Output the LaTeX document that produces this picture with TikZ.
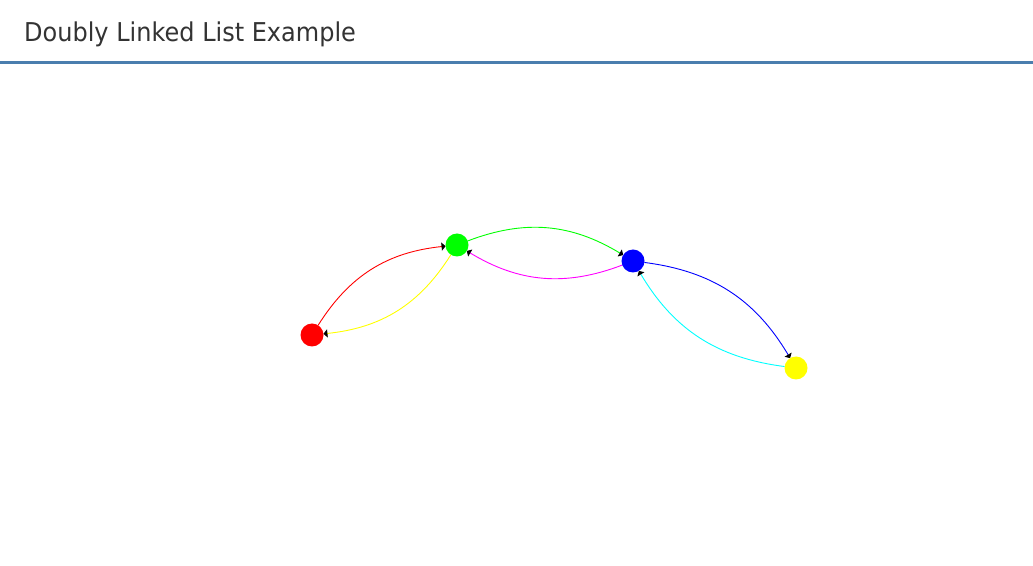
\documentclass[tikz,border=0pt]{standalone}
\usepackage{fontspec}
\setmainfont{DejaVu Sans}
\usetikzlibrary{arrows.meta}
\definecolor{titlegray}{RGB}{51,51,51}
\definecolor{ruleblue}{RGB}{74,126,174}
\definecolor{cRed}{RGB}{255,0,0}
\definecolor{cGreen}{RGB}{0,255,0}
\definecolor{cBlue}{RGB}{0,0,255}
\definecolor{cYellow}{RGB}{255,255,0}
\definecolor{cMagenta}{RGB}{255,0,255}
\definecolor{cCyan}{RGB}{0,255,255}
\begin{document}
\begin{tikzpicture}[x=1pt,y=1pt,
  dot/.style={circle,minimum size=23pt,inner sep=0pt,outer sep=0pt},
  link/.style={line width=0.9pt,bend left=26,
    -{Triangle[length=4pt,width=8pt,black]}}]
\useasboundingbox (0,0) rectangle (1033,565);
\fill[white] (0,0) rectangle (1033,565);
% title
\node[anchor=base west,inner sep=0pt,text=titlegray,font=\fontsize{24}{28}\selectfont] (title) at (24,523) {\scalebox{1}[1.08]{Doubly Linked List Example}};
\coordinate (ruleL) at (0,502.5);
\coordinate (ruleR) at (1033,502.5);
\draw[ruleblue,line width=3pt] (ruleL) -- (ruleR);
% nodes
\coordinate (pa) at (312,230);
\coordinate (pb) at (457,320);
\coordinate (pc) at (633,304);
\coordinate (pd) at (796,197);
\node[dot] (a) at (pa) {};
\node[dot] (b) at (pb) {};
\node[dot] (c) at (pc) {};
\node[dot] (d) at (pd) {};
\draw[link,cRed] (a) to (b);
\draw[link,cYellow] (b) to (a);
\draw[link,cGreen] (b) to (c);
\draw[link,cMagenta] (c) to (b);
\draw[link,cBlue] (c) to (d);
\draw[link,cCyan] (d) to (c);
\fill[cRed] (a) circle (11.5);
\fill[cGreen] (b) circle (11.5);
\fill[cBlue] (c) circle (11.5);
\fill[cYellow] (d) circle (11.5);
\end{tikzpicture}
\end{document}
